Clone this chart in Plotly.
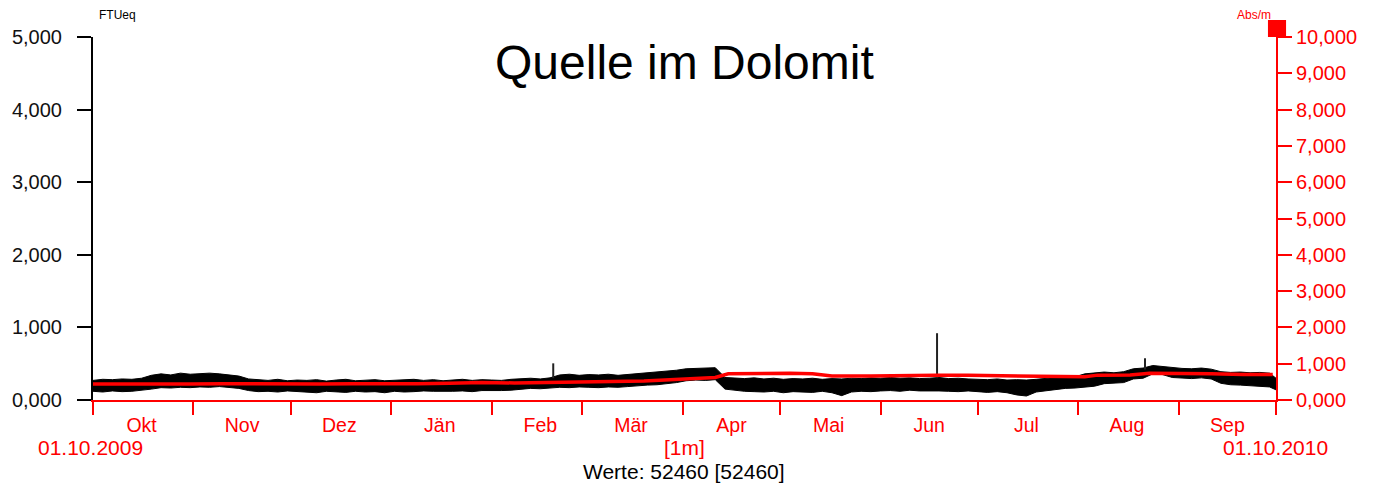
import pandas as pd
import plotly.graph_objects as go

# ---------------- data ----------------
start_date = "2009-10-01"
end_date = "2010-10-01"

# Turbidity band (FTUeq), one value every 3 days starting 01.10.2009
turb_high = [270, 285, 280, 290, 285, 300, 340, 360, 345, 370, 355, 365, 370, 360, 350, 330,
             290, 275, 270, 285, 265, 275, 270, 280, 260, 275, 285, 265, 270, 280, 265, 270,
             275, 285, 270, 280, 265, 275, 285, 270, 280, 275, 270, 285, 295, 300, 290, 305,
             345, 355, 340, 350, 345, 355, 340, 350, 365, 370, 380, 395, 410, 430, 435, 440,
             445, 310, 300, 295, 305, 290, 300, 285, 295, 290, 300, 285, 295, 290, 300, 295,
             305, 300, 310, 300, 305, 295, 300, 310, 295, 300, 290, 285, 280, 290, 275, 280,
             275, 285, 300, 310, 305, 320, 360, 370, 385, 375, 390, 430, 440, 475, 460, 440,
             435, 430, 440, 425, 390, 380, 385, 375, 380, 370]
turb_low = [120, 110, 125, 115, 120, 130, 150, 170, 165, 175, 170, 180, 175, 185, 170, 160,
            130, 115, 120, 110, 125, 115, 110, 100, 120, 115, 105, 120, 110, 115, 100, 120,
            110, 115, 125, 120, 115, 120, 125, 115, 130, 125, 130, 135, 150, 160, 155, 165,
            175, 170, 180, 175, 170, 180, 175, 185, 200, 205, 210, 220, 240, 265, 275, 270,
            280, 150, 130, 120, 115, 110, 120, 100, 115, 110, 105, 120, 100, 60, 110, 120,
            115, 125, 130, 120, 135, 125, 130, 125, 120, 115, 125, 110, 105, 115, 100, 70,
            55, 110, 130, 150, 160, 165, 175, 190, 225, 230, 240, 290, 300, 360, 350, 310,
            300, 295, 305, 290, 230, 210, 205, 200, 195, 180]
turb_last_high = 300
turb_last_low = 140

# Isolated turbidity peaks
spike_dates = ["2010-02-20 00:00", "2010-06-18 10:00", "2010-08-21 14:00"]
spike_base = [300, 300, 420]
spike_peak = [505, 920, 575]

# Spectral absorption (Abs/m), right axis
sac_days = [0, 10, 20, 30, 40, 50, 60, 70, 80, 90, 100, 110, 120, 130, 140, 150, 160, 170,
            178, 185, 192, 196, 205, 215, 222, 228, 240, 250, 260, 270, 280, 290, 300, 306,
            310, 320, 326, 335, 345, 355, 364]
sac_values = [440, 435, 450, 440, 450, 440, 430, 440, 445, 440, 450, 460, 480, 470, 485, 490,
              495, 520, 560, 600, 620, 720, 735, 740, 720, 660, 660, 680, 680, 680, 670, 660,
              630, 640, 685, 690, 740, 740, 720, 700, 700]

month_labels = ["Okt", "Nov", "Dez", "Jän", "Feb", "Mär", "Apr", "Mai", "Jun", "Jul", "Aug", "Sep"]
left_ticks = [0, 1000, 2000, 3000, 4000, 5000]
left_ticktext = ["0,000", "1,000", "2,000", "3,000", "4,000", "5,000"]
right_ticks = [0, 1000, 2000, 3000, 4000, 5000, 6000, 7000, 8000, 9000, 10000]
right_ticktext = ["0,000", "1,000", "2,000", "3,000", "4,000", "5,000", "6,000", "7,000",
                  "8,000", "9,000", "10,000"]

title_text = "Quelle im Dolomit"
left_unit = "FTUeq"
right_unit = "Abs/m"
footer_text = "Werte: 52460 [52460]"
interval_text = "[1m]"
start_label = "01.10.2009"
end_label = "01.10.2010"

# ---------------- build ----------------
RED = "#ff0000"
FONT = "Arial, Liberation Sans, sans-serif"

band_x = list(pd.date_range(start_date, periods=len(turb_high), freq="3D")) + [pd.Timestamp(end_date)]
band_hi = turb_high + [turb_last_high]
band_lo = turb_low + [turb_last_low]
sac_x = [pd.Timestamp(start_date) + pd.Timedelta(days=d) for d in sac_days]

month_starts = list(pd.date_range(start_date, end_date, freq="MS"))
month_mids = [m + pd.Timedelta(days=15) for m in month_starts[:-1]]

fig = go.Figure()
fig.add_trace(go.Scatter(x=band_x, y=band_lo, mode="lines", line=dict(color="black", width=1),
                         showlegend=False, hoverinfo="skip"))
fig.add_trace(go.Scatter(x=band_x, y=band_hi, mode="lines", line=dict(color="black", width=1),
                         fill="tonexty", fillcolor="black", showlegend=False))
for d, b, p in zip(spike_dates, spike_base, spike_peak):
    fig.add_trace(go.Scatter(x=[d, d], y=[b, p], mode="lines", line=dict(color="#222", width=2),
                             showlegend=False))
fig.add_trace(go.Scatter(x=sac_x, y=sac_values, mode="lines", yaxis="y2",
                         line=dict(color=RED, width=3.5), showlegend=False))
# invisible trace for month-label axis
fig.add_trace(go.Scatter(x=[start_date, end_date], y=[0, 0], xaxis="x2", mode="lines",
                         line=dict(width=0), showlegend=False, hoverinfo="skip"))

x_range = [start_date, end_date]
# page body has an 8px default margin, so the figure is 8px smaller and margins shifted
fig.update_layout(
    width=1365, height=478,
    margin=dict(l=85, r=97, t=29, b=86, autoexpand=False),
    paper_bgcolor="white", plot_bgcolor="white",
    font=dict(family=FONT, size=20, color="black"),
    xaxis=dict(type="date", range=x_range, showgrid=False, zeroline=False,
               showline=True, linecolor=RED, linewidth=2,
               tickmode="array", tickvals=month_starts, showticklabels=False,
               ticks="outside", ticklen=13, tickwidth=2, tickcolor=RED),
    xaxis2=dict(type="date", range=x_range, overlaying="x", side="bottom", showgrid=False,
                zeroline=False, showline=False, tickmode="array", tickvals=month_mids,
                ticktext=month_labels, ticks="outside", ticklen=8,
                tickcolor="rgba(0,0,0,0)", tickfont=dict(color=RED, size=19.5, family=FONT)),
    yaxis=dict(range=[0, 5000], showgrid=False, zeroline=False, showline=True,
               linecolor="black", linewidth=2, tickmode="array", tickvals=left_ticks,
               ticktext=left_ticktext, ticks="outside", ticklen=14, tickwidth=2,
               ticklabelstandoff=11,
               tickcolor="black", tickfont=dict(color="#111", size=20, family=FONT)),
    yaxis2=dict(range=[0, 10000], overlaying="y", side="right", showgrid=False,
                zeroline=False, showline=True, linecolor=RED, linewidth=2,
                tickmode="array", tickvals=right_ticks, ticktext=right_ticktext,
                ticks="outside", ticklen=14, tickwidth=2, tickcolor=RED,
                tickfont=dict(color=RED, size=20, family=FONT)),
    showlegend=False,
)

ann = [
    dict(text=title_text, x=0.4996, y=0.931, font=dict(size=48, color="black")),
    dict(text=left_unit, x=0.0203, y=1.0606, font=dict(size=12, color="black")),
    dict(text=right_unit, x=0.981, y=1.0606, font=dict(size=12, color=RED)),
    dict(text=start_label, x=-0.0017, y=-0.132, font=dict(size=21, color=RED)),
    dict(text=interval_text, x=0.4996, y=-0.132, font=dict(size=21, color=RED)),
    dict(text=end_label, x=0.9992, y=-0.132, font=dict(size=21, color=RED)),
    dict(text=footer_text, x=0.4996, y=-0.1956, font=dict(size=21, color="black")),
]
for a in ann:
    fig.add_annotation(xref="paper", yref="paper", showarrow=False, xanchor="center",
                       yanchor="middle", **a)

# legend-like red square at the top of the right axis
fig.add_shape(type="rect", xref="paper", yref="paper", x0=0.9932, x1=1.0085, y0=1.0,
              y1=1.0468, fillcolor=RED, line=dict(width=0))

fig.write_html("out.html")
